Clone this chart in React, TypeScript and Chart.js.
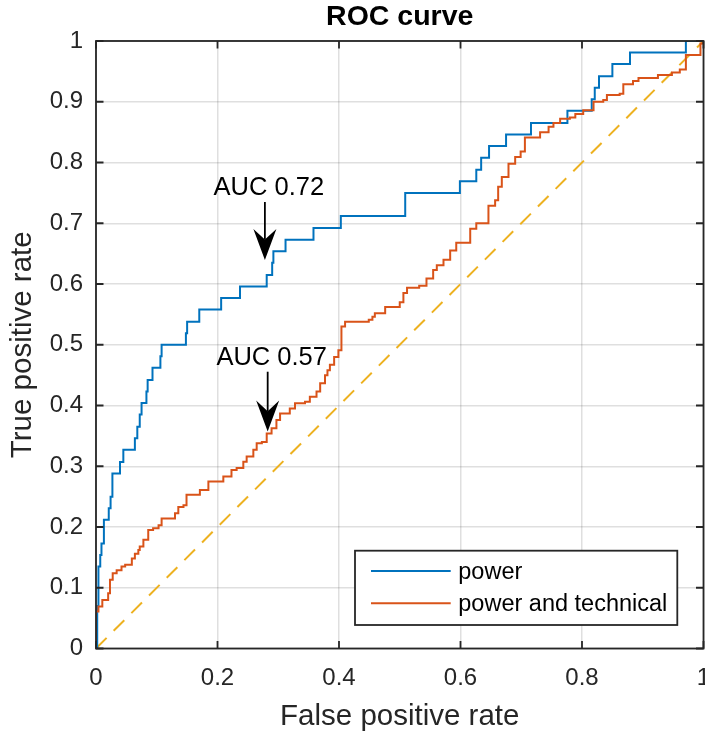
import { useEffect, useRef } from 'react';
import { Chart, registerables } from 'chart.js';

Chart.register(...registerables);

// ---- data ----
const seriesLabels = ['power', 'power and technical'];

const powerFpr = [0, 0.002, 0.004, 0.007, 0.009, 0.013, 0.021, 0.024, 0.027, 0.0395, 0.045, 0.064, 0.068, 0.072, 0.075, 0.083, 0.085, 0.093, 0.106, 0.108, 0.148, 0.15, 0.17, 0.206, 0.237, 0.281, 0.29, 0.292, 0.312, 0.358, 0.403, 0.509, 0.599, 0.626, 0.634, 0.647, 0.675, 0.716, 0.776, 0.816, 0.821, 0.828, 0.85, 0.879, 0.971, 1];
const powerTpr = [0, 0.07, 0.135, 0.154, 0.173, 0.212, 0.231, 0.25, 0.288, 0.307, 0.327, 0.346, 0.365, 0.385, 0.404, 0.423, 0.442, 0.462, 0.481, 0.5, 0.519, 0.538, 0.558, 0.577, 0.596, 0.615, 0.635, 0.654, 0.673, 0.692, 0.712, 0.75, 0.769, 0.788, 0.808, 0.827, 0.846, 0.865, 0.885, 0.904, 0.923, 0.942, 0.962, 0.981, 1, 1];

const techFpr = [0, 0, 0.004, 0.0104, 0.02, 0.023, 0.0275, 0.034, 0.042, 0.048, 0.059, 0.064, 0.0697, 0.072, 0.078, 0.086, 0.094, 0.103, 0.108, 0.13, 0.1355, 0.144, 0.149, 0.171, 0.185, 0.2096, 0.223, 0.2315, 0.2425, 0.248, 0.259, 0.2645, 0.273, 0.281, 0.289, 0.297, 0.303, 0.319, 0.3276, 0.344, 0.352, 0.363, 0.369, 0.377, 0.381, 0.385, 0.392, 0.399, 0.404, 0.41, 0.449, 0.455, 0.459, 0.476, 0.5, 0.506, 0.512, 0.532, 0.544, 0.555, 0.561, 0.572, 0.583, 0.593, 0.616, 0.626, 0.646, 0.657, 0.662, 0.668, 0.679, 0.69, 0.699, 0.706, 0.731, 0.745, 0.753, 0.764, 0.78, 0.789, 0.802, 0.819, 0.835, 0.841, 0.862, 0.868, 0.884, 0.893, 0.925, 0.948, 0.961, 0.971, 0.995, 1];
const techTpr = [0, 0.061, 0.069, 0.08, 0.091, 0.113, 0.124, 0.129, 0.135, 0.138, 0.148, 0.156, 0.162, 0.168, 0.179, 0.195, 0.198, 0.203, 0.214, 0.2225, 0.233, 0.236, 0.253, 0.261, 0.275, 0.283, 0.294, 0.297, 0.3075, 0.316, 0.327, 0.338, 0.34, 0.354, 0.3625, 0.376, 0.387, 0.395, 0.4036, 0.406, 0.4145, 0.423, 0.4365, 0.45, 0.458, 0.467, 0.48, 0.491, 0.53, 0.538, 0.541, 0.546, 0.552, 0.562, 0.57, 0.585, 0.594, 0.597, 0.609, 0.623, 0.631, 0.64, 0.655, 0.668, 0.691, 0.7, 0.729, 0.738, 0.76, 0.776, 0.798, 0.809, 0.818, 0.841, 0.85, 0.859, 0.865, 0.872, 0.874, 0.88, 0.886, 0.9, 0.903, 0.911, 0.913, 0.929, 0.934, 0.939, 0.944, 0.948, 0.953, 0.977, 0.996, 1];

const chanceFpr = [0, 1];
const chanceTpr = [0, 1];

const xTickValues = [0, 0.2, 0.4, 0.6, 0.8, 1];
const yTickValues = [0, 0.1, 0.2, 0.3, 0.4, 0.5, 0.6, 0.7, 0.8, 0.9, 1];

const aucLabels = ['AUC 0.72', 'AUC 0.57'];
const arrowTailX = [0.278, 0.2826];
const arrowTailY = [0.735, 0.4556];
const arrowHeadX = [0.278, 0.2826];
const arrowHeadY = [0.6395, 0.357];

// ---- styles ----
const FONT = "'Liberation Sans', Arial, Helvetica, sans-serif";
const AXIS_COLOR = '#262626';
const BLUE = '#0072BD';
const ORANGE = '#D95319';
const YELLOW = '#EDB120';

const toPoints = (xs: number[], ys: number[]) => xs.map((x, i) => ({ x, y: ys[i] }));

const matlabPlugin = {
  id: 'matlabDecor',
  afterDatasetsDraw(chart: any) {
    const { ctx, chartArea: a, scales } = chart;
    const xs = scales.x;
    const ys = scales.y;
    const TICK = 7.5;
    ctx.save();
    // inward ticks on all four sides
    ctx.strokeStyle = AXIS_COLOR;
    ctx.lineWidth = 1.8;
    ctx.beginPath();
    xTickValues.forEach((v) => {
      const px = xs.getPixelForValue(v);
      ctx.moveTo(px, a.bottom);
      ctx.lineTo(px, a.bottom - TICK);
      ctx.moveTo(px, a.top);
      ctx.lineTo(px, a.top + TICK);
    });
    yTickValues.forEach((v) => {
      const py = ys.getPixelForValue(v);
      ctx.moveTo(a.left, py);
      ctx.lineTo(a.left + TICK, py);
      ctx.moveTo(a.right, py);
      ctx.lineTo(a.right - TICK, py);
    });
    ctx.stroke();
    ctx.strokeRect(a.left, a.top, a.right - a.left, a.bottom - a.top);

    // annotations (text arrows)
    ctx.fillStyle = '#000';
    ctx.strokeStyle = '#000';
    ctx.font = `25.5px ${FONT}`;
    ctx.textAlign = 'center';
    ctx.textBaseline = 'alphabetic';
    aucLabels.forEach((label, i) => {
      const tx = xs.getPixelForValue(arrowTailX[i]);
      const ty = ys.getPixelForValue(arrowTailY[i]);
      const hx = xs.getPixelForValue(arrowHeadX[i]);
      const hy = ys.getPixelForValue(arrowHeadY[i]);
      const len = Math.hypot(hx - tx, hy - ty);
      const dx = (hx - tx) / len;
      const dy = (hy - ty) / len;
      const nx = -dy;
      const ny = dx;
      const L = 31;
      const W = 11.5;
      const bx = hx - dx * L;
      const by = hy - dy * L;
      const notchX = hx - dx * L * 0.66;
      const notchY = hy - dy * L * 0.66;
      ctx.lineWidth = 1.8;
      ctx.beginPath();
      ctx.moveTo(tx, ty);
      ctx.lineTo(notchX, notchY);
      ctx.stroke();
      ctx.beginPath();
      ctx.moveTo(hx, hy);
      ctx.lineTo(bx + nx * W, by + ny * W);
      ctx.lineTo(notchX, notchY);
      ctx.lineTo(bx - nx * W, by - ny * W);
      ctx.closePath();
      ctx.fill();
      ctx.fillText(label, tx + 4, ty - 7);
    });

    // legend
    const lx = a.left + 259;
    const ly = a.top + 509.7;
    const lw = 322.3;
    const lh = 74.3;
    ctx.fillStyle = '#fff';
    ctx.fillRect(lx, ly, lw, lh);
    ctx.strokeStyle = AXIS_COLOR;
    ctx.lineWidth = 1.8;
    ctx.strokeRect(lx, ly, lw, lh);
    ctx.font = `23.5px ${FONT}`;
    ctx.textAlign = 'left';
    ctx.textBaseline = 'middle';
    const rows = [20.3, 52.6];
    seriesLabels.forEach((label, i) => {
      const ds = chart.data.datasets[i];
      const ry = ly + rows[i];
      ctx.strokeStyle = ds.borderColor;
      ctx.lineWidth = 2;
      ctx.beginPath();
      ctx.moveTo(lx + 16, ry);
      ctx.lineTo(lx + 95.7, ry);
      ctx.stroke();
      ctx.fillStyle = '#000';
      ctx.fillText(label, lx + 103.3, ry + 1.5);
    });
    ctx.restore();
  },
};

export default function App() {
  const ref = useRef<HTMLCanvasElement | null>(null);

  useEffect(() => {
    document.body.style.margin = '0';
    const canvas = ref.current;
    if (!canvas) return;
    const chart = new Chart(canvas, {
      type: 'line',
      data: {
        datasets: [
          {
            label: seriesLabels[0],
            data: toPoints(powerFpr, powerTpr),
            borderColor: BLUE,
            borderWidth: 2,
            pointRadius: 0,
            stepped: true,
            fill: false,
            order: 2,
          },
          {
            label: seriesLabels[1],
            data: toPoints(techFpr, techTpr),
            borderColor: ORANGE,
            borderWidth: 2,
            pointRadius: 0,
            stepped: true,
            fill: false,
            order: 1,
          },
          {
            label: 'chance',
            data: toPoints(chanceFpr, chanceTpr),
            borderColor: YELLOW,
            borderWidth: 2,
            borderDash: [15, 10],
            pointRadius: 0,
            fill: false,
            order: 3,
          },
        ],
      },
      options: {
        responsive: false,
        animation: false,
        events: [],
        layout: { padding: { top: 0, right: 1.5, bottom: 0, left: 0 } },
        plugins: {
          legend: { display: false },
          tooltip: { enabled: false },
          title: {
            display: true,
            text: 'ROC curve',
            color: '#000',
            fullSize: false,
            font: { family: FONT, size: 28.5, weight: 'bold' },
            padding: { top: 0, bottom: 6.8 },
          },
        },
        scales: {
          x: {
            type: 'linear',
            min: 0,
            max: 1,
            afterFit: (s: any) => {
              s.height = 89.5;
              s.paddingLeft = 0;
              s.paddingRight = 0;
            },
            afterBuildTicks: (s: any) => {
              s.ticks = xTickValues.map((v) => ({ value: v }));
            },
            ticks: {
              autoSkip: false,
              maxRotation: 0,
              padding: 15.4,
              color: AXIS_COLOR,
              font: { family: FONT, size: 24 },
              callback: (v: any) => String(Math.round(Number(v) * 10) / 10),
            },
            grid: { color: 'rgba(38,38,38,0.15)', lineWidth: 1.5, drawTicks: false },
            border: { display: false },
            title: {
              display: true,
              text: 'False positive rate',
              color: AXIS_COLOR,
              font: { family: FONT, size: 29.5 },
              padding: { top: 0, bottom: 3.6 },
            },
          },
          y: {
            type: 'linear',
            min: 0,
            max: 1,
            afterFit: (s: any) => {
              s.width = 96;
              s.paddingTop = 0;
              s.paddingBottom = 0;
            },
            afterBuildTicks: (s: any) => {
              s.ticks = yTickValues.map((v) => ({ value: v }));
            },
            ticks: {
              autoSkip: false,
              padding: 13,
              color: AXIS_COLOR,
              font: { family: FONT, size: 24 },
              callback: (v: any) => String(Math.round(Number(v) * 10) / 10),
            },
            grid: { color: 'rgba(38,38,38,0.15)', lineWidth: 1.5, drawTicks: false },
            border: { display: false },
            title: {
              display: true,
              text: 'True positive rate',
              color: AXIS_COLOR,
              font: { family: FONT, size: 29.5 },
              padding: { top: 5.6, bottom: 0 },
            },
          },
        },
      },
      plugins: [matlabPlugin],
    } as any);
    return () => chart.destroy();
  }, []);

  return (
    <div style={{ width: 705, height: 738 }}>
      <canvas ref={ref} width={705} height={738} style={{ display: 'block' }} />
    </div>
  );
}
